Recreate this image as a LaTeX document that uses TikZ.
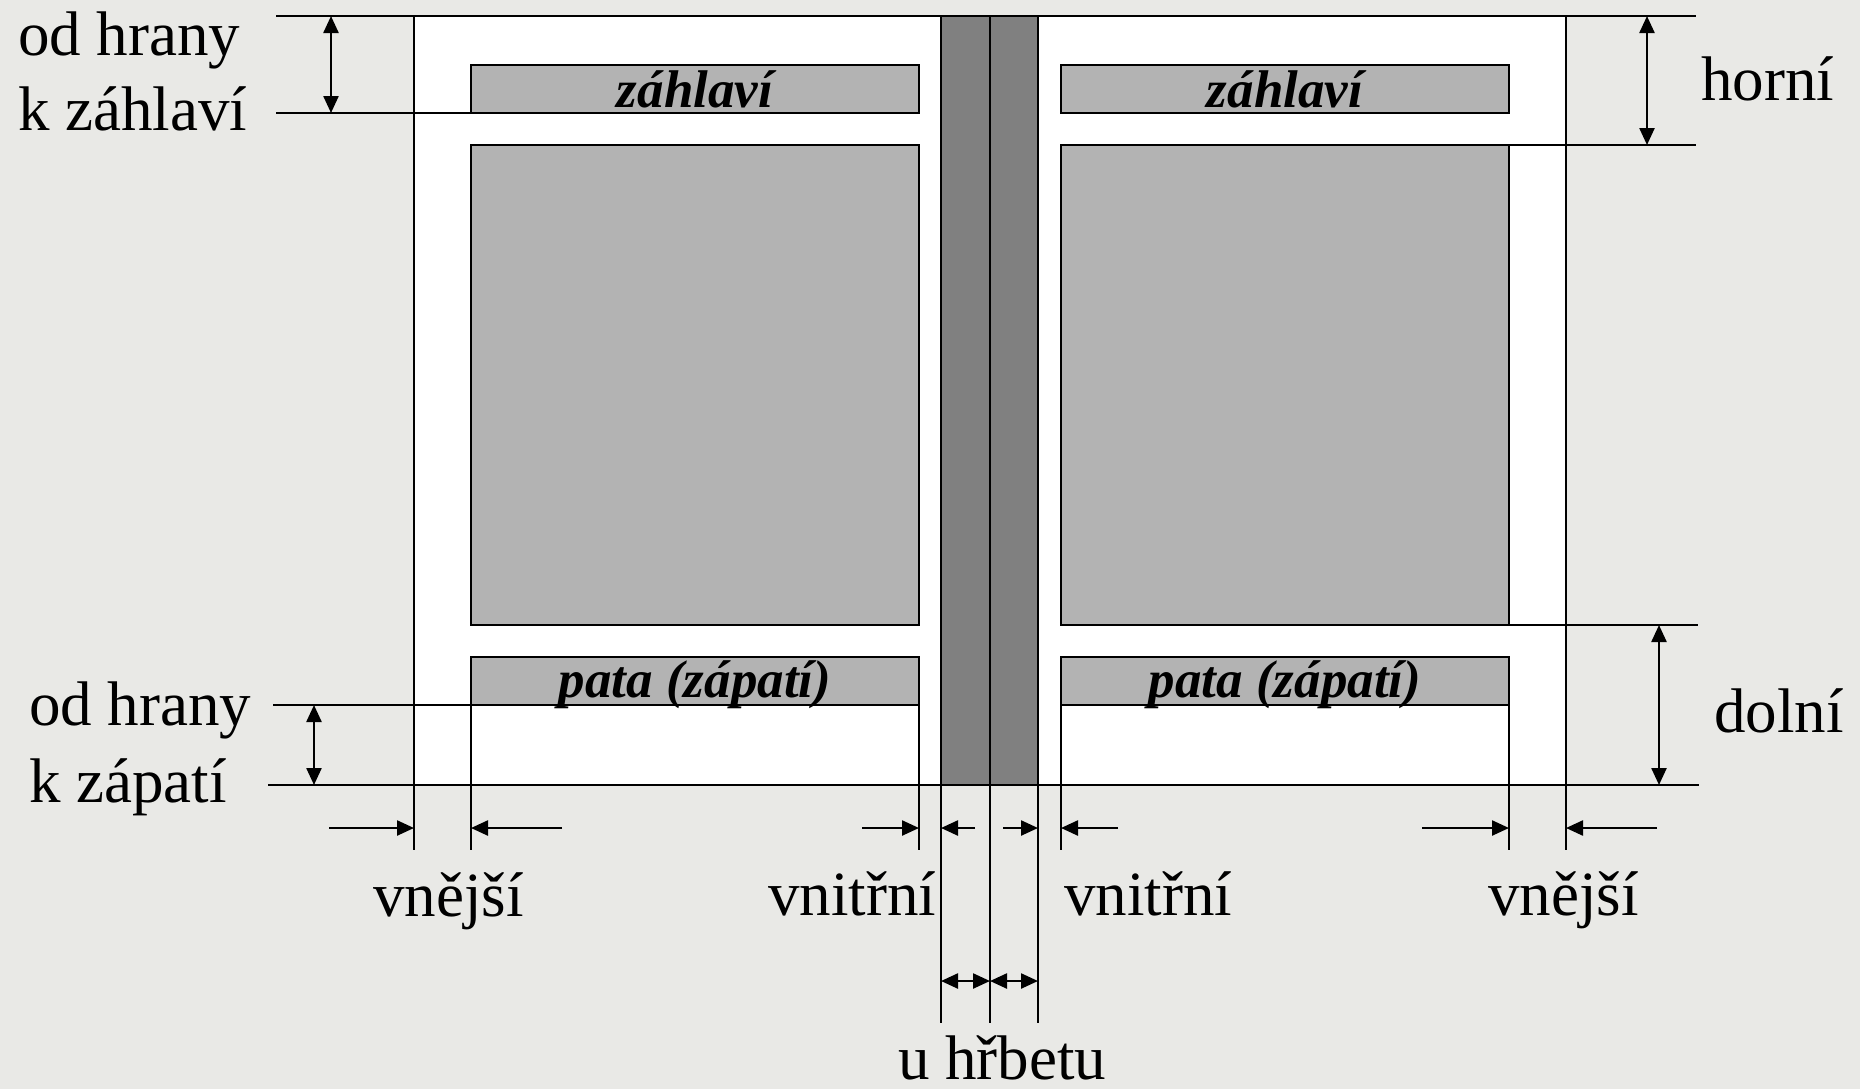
\documentclass[tikz,border=0pt]{standalone}
\usepackage{fontspec}
\setmainfont{Liberation Serif}
\usetikzlibrary{arrows.meta}
\definecolor{bgcol}{RGB}{233,233,230}
\definecolor{blockgrey}{RGB}{179,179,179}
\definecolor{stripgrey}{RGB}{128,128,128}
\tikzset{
  pagebox/.style={fill=white,draw=black},
  blockbox/.style={fill=blockgrey,draw=black},
  stripbox/.style={fill=stripgrey,draw=black},
  extline/.style={draw=black},
  onearrow/.style={-{Triangle[length=8.5pt,width=7.5pt]}},
  twoarrow/.style={{Triangle[length=8.5pt,width=7.5pt]}-{Triangle[length=8.5pt,width=7.5pt]}},
  mainlbl/.style={inner sep=0pt,anchor=base west,font=\fontsize{31.5}{38}\selectfont},
  boxlbl/.style={inner sep=0pt,anchor=base,font=\fontsize{26.5}{32}\selectfont\bfseries\itshape},
}
\begin{document}
\begin{tikzpicture}[x=0.5pt,y=-0.5pt,line width=1.2pt]
\fill[bgcol] (0,0) rectangle (1860,1089);
\useasboundingbox (0,0) rectangle (1860,1089);

% pages
\draw[pagebox] (414,16) rectangle (941,785);
\draw[pagebox] (1038,16) rectangle (1566,785);
\draw[stripbox] (941,16) rectangle (990,785);
\draw[stripbox] (990,16) rectangle (1038,785);

% left page blocks
\draw[blockbox] (471,65) rectangle (919,113);
\draw[blockbox] (471,145) rectangle (919,625);
\draw[blockbox] (471,657) rectangle (919,705);
% right page blocks
\draw[blockbox] (1061,65) rectangle (1509,113);
\draw[blockbox] (1061,145) rectangle (1509,625);
\draw[blockbox] (1061,657) rectangle (1509,705);

% named coordinates
\coordinate (tA) at (276,16);   \coordinate (tB) at (1696,16);
\coordinate (hA) at (276,113);  \coordinate (hB) at (471,113);
\coordinate (rA) at (1438,145); \coordinate (rB) at (1696,145);
\coordinate (fA) at (273,705);  \coordinate (fB) at (471,705);
\coordinate (bA) at (268,785);  \coordinate (bB) at (1699,785);
\coordinate (dA) at (1509,625); \coordinate (dB) at (1698,625);

\draw[extline] (tA) -- (tB);
\draw[extline] (hA) -- (hB);
\draw[extline] (rA) -- (rB);
\draw[extline] (fA) -- (fB);
\draw[extline] (bA) -- (bB);
\draw[extline] (dA) -- (dB);

% vertical extension lines
\foreach \n/\x/\ya/\yb in {v1/414/785/850, v2/471/705/850, v3/919/705/850,
   v4/1061/705/850, v5/1509/705/850, v6/1566/785/850,
   s1/941/785/1023, s2/990/785/1023, s3/1038/785/1023}{
  \coordinate (\n top) at (\x,\ya);
  \coordinate (\n bot) at (\x,\yb);
  \draw[extline] (\n top) -- (\n bot);
}

% vertical dimension arrows
\coordinate (a1) at (331,16);  \coordinate (a2) at (331,113);
\coordinate (a3) at (314,705); \coordinate (a4) at (314,785);
\coordinate (a5) at (1647,16); \coordinate (a6) at (1647,145);
\coordinate (a7) at (1659,625);\coordinate (a8) at (1659,785);
\draw[twoarrow] (a1) -- (a2);
\draw[twoarrow] (a3) -- (a4);
\draw[twoarrow] (a5) -- (a6);
\draw[twoarrow] (a7) -- (a8);

% horizontal margin arrows
\foreach \n/\xs/\xe in {m1/329/414, m2/562/471, m3/862/919, m4/975/941,
   m5/1003/1038, m6/1118/1061, m7/1422/1509, m8/1657/1566}{
  \coordinate (\n s) at (\xs,828);
  \coordinate (\n e) at (\xe,828);
  \draw[onearrow] (\n s) -- (\n e);
}
\coordinate (g1) at (941,981); \coordinate (g2) at (990,981); \coordinate (g3) at (1038,981);
\draw[twoarrow] (g1) -- (g2);
\draw[twoarrow] (g2) -- (g3);

% box labels
\node[boxlbl] (hdrL) at (695,107) {záhlaví};
\node[boxlbl] (hdrR) at (1285,107) {záhlaví};
\node[boxlbl] (ftrL) at (695,697) {pata (zápatí)};
\node[boxlbl] (ftrR) at (1285,697) {pata (zápatí)};

% main labels
\node[mainlbl] (ot1) at (17,55) {od hrany};
\node[mainlbl] (ot2) at (17,130) {k záhlaví};
\node[mainlbl] (ob1) at (28,725) {od hrany};
\node[mainlbl] (ob2) at (28,802) {k zápatí};
\node[mainlbl] (horni) at (1700,100) {horní};
\node[mainlbl] (dolni) at (1713,732) {dolní};
\node[mainlbl] (vnejL) at (372,916) {vnější};
\node[mainlbl] (vnitL) at (767,915) {vnitřní};
\node[mainlbl] (vnitR) at (1063,915) {vnitřní};
\node[mainlbl] (vnejR) at (1487,915) {vnější};
\node[mainlbl] (hrbet) at (897,1079) {u hřbetu};
\end{tikzpicture}
\end{document}
